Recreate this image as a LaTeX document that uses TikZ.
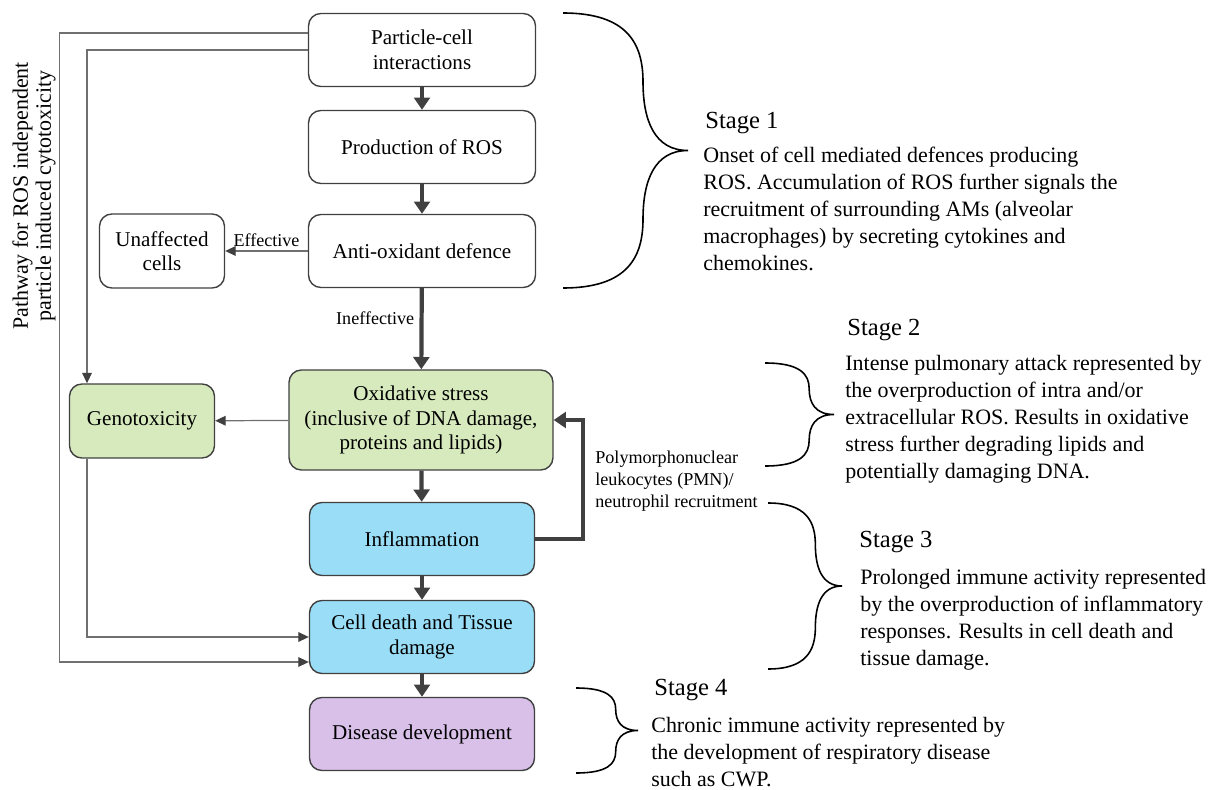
\documentclass[tikz,border=0pt]{standalone}
\usepackage{fontspec}
\setmainfont{Liberation Serif}
\usetikzlibrary{arrows.meta}

\definecolor{boxline}{RGB}{64,64,64}
\definecolor{thinline}{RGB}{112,112,112}
\definecolor{boxgreen}{RGB}{214,234,190}
\definecolor{boxblue}{RGB}{153,221,246}
\definecolor{boxpurple}{RGB}{216,192,233}

\tikzset{
  stepbox/.style={draw=boxline,line width=0.8pt,rounded corners=7pt,align=center,
    minimum width=4.54cm,minimum height=1.46cm,font=\fontsize{12}{14}\selectfont},
  thickarrow/.style={-{Triangle[length=7pt,width=9pt]},draw=boxline,line width=2.4pt},
  thinarrow/.style={-{Triangle[length=6pt,width=5.5pt,color=boxline]},draw=thinline,line width=0.7pt},
  smalllabel/.style={font=\fontsize{10.3}{12.5}\selectfont,align=left,inner sep=1pt},
  stagehead/.style={font=\fontsize{14}{16}\selectfont,inner sep=0pt,anchor=west},
  stagetext/.style={font=\fontsize{12.5}{15.3}\selectfont,align=left,inner sep=0pt,anchor=north west},
  bracestyle/.style={draw=black,line width=0.9pt}
}

% x0, y top, y bottom, x tip
\newcommand{\stagebrace}[4]{%
  \pgfmathsetmacro{\yc}{(#2+#3)/2}
  \pgfmathsetmacro{\xm}{#1+0.64*(#4-#1)}
  \pgfmathsetmacro{\yq}{(#2+\yc)/2}
  \pgfmathsetmacro{\yr}{(#3+\yc)/2}
  \pgfmathsetmacro{\ha}{0.22*(\yc-#2)}
  \pgfmathsetmacro{\xa}{#1+0.8*(\xm-#1)}
  \pgfmathsetmacro{\xb}{\xm+0.25*(#4-\xm)}
  \draw[bracestyle] (#1,#2) .. controls (\xa,#2) and (\xm,#2+\ha) .. (\xm,\yq)
    .. controls (\xm,\yc-\ha) and (\xb,\yc) .. (#4,\yc)
    .. controls (\xb,\yc) and (\xm,\yc+\ha) .. (\xm,\yr)
    .. controls (\xm,#3-\ha) and (\xa,#3) .. (#1,#3);
}

\begin{document}
\begin{tikzpicture}[x=0.02cm,y=-0.02cm]

\useasboundingbox (0,0) rectangle (1213,790);

\node[stepbox,fill=white](particle cell) at (422,50) {Particle-cell\\interactions};
\node[stepbox,fill=white](production) at (422,147) {Production of ROS};
\node[stepbox,fill=white](antioxidant) at (422,251) {Anti-oxidant defence};
\node[stepbox,fill=white,minimum width=2.5cm,minimum height=1.48cm](unaffected) at (162,251) {Unaffected\\cells};
\node[stepbox,fill=boxgreen,minimum width=5.28cm,minimum height=2cm](oxidative) at (421,420) {Oxidative stress\\(inclusive of DNA damage,\\proteins and lipids)};
\node[stepbox,fill=boxgreen,minimum width=2.9cm,minimum height=1.48cm](genotoxicity) at (142,421) {Genotoxicity};
\node[stepbox,fill=boxblue,minimum width=4.5cm](inflammation) at (422,539) {Inflammation};
\node[stepbox,fill=boxblue,minimum width=4.5cm](cell death) at (422,637) {Cell death and Tissue\\damage};
\node[stepbox,fill=boxpurple,minimum width=4.5cm](disease) at (422,734) {Disease development};

\draw[thickarrow] (particle cell) to (production);
\draw[thickarrow] (production) to (antioxidant);
\draw[thickarrow] (antioxidant) to node[pos=0.37,left,smalllabel,xshift=-2pt]{Ineffective} (oxidative);
\draw[thinarrow] (antioxidant) to node[above,smalllabel,yshift=1pt]{Effective} (unaffected);
\draw[thinarrow] (oxidative) to (genotoxicity);
\draw[thickarrow] (oxidative) to (inflammation);
\draw[thickarrow] (inflammation) to (cell death);
\draw[thickarrow] (cell death) to (disease);
\draw[thickarrow] (inflammation.east) -- ++(48,0) |- (oxidative.east);

% ROS independent pathway
\draw[thinarrow] (particle cell.west) -| ([xshift=-1.1cm]genotoxicity.north);
\draw[thinarrow] ([xshift=-1.1cm]genotoxicity.south) |- (cell death.west);
\draw[thinarrow] ([yshift=0.34cm]particle cell.west) -- ++(-248,0) |- ([yshift=-0.5cm]cell death.west);

\node[rotate=90,align=center,font=\fontsize{12.5}{13}\selectfont](pathway) at (34,196) {Pathway for ROS independent\\particle induced cytotoxicity};

\node[smalllabel,anchor=north west,inner sep=0pt](pmn) at (595,451) {Polymorphonuclear\\leukocytes (PMN)/\\neutrophil recruitment};

% stages
\stagebrace{563}{13}{288}{688}
\stagebrace{765}{363}{466}{834}
\stagebrace{768}{503}{669}{842}
\stagebrace{576}{688}{773}{638}

\node[stagehead](stage one) at (705,123) {Stage 1};
\node[stagetext](stage one text) at (703,147) {Onset of cell mediated defences producing\\ROS. Accumulation of ROS further signals the\\recruitment of surrounding AMs (alveolar\\macrophages) by secreting cytokines and\\chemokines.};
\node[stagehead](stage two) at (847,330) {Stage 2};
\node[stagetext](stage two text) at (845,355) {Intense pulmonary attack represented by\\the overproduction of intra and/or\\extracellular ROS. Results in oxidative\\stress further degrading lipids and\\potentially damaging DNA.};
\node[stagehead](stage three) at (859,542) {Stage 3};
\node[stagetext](stage three text) at (860,569) {Prolonged immune activity represented\\by the overproduction of inflammatory\\responses. Results in cell death and\\tissue damage.};
\node[stagehead](stage four) at (654,690) {Stage 4};
\node[stagetext](stage four text) at (651,717) {Chronic immune activity represented by\\the development of respiratory disease\\such as CWP.};

\end{tikzpicture}
\end{document}
